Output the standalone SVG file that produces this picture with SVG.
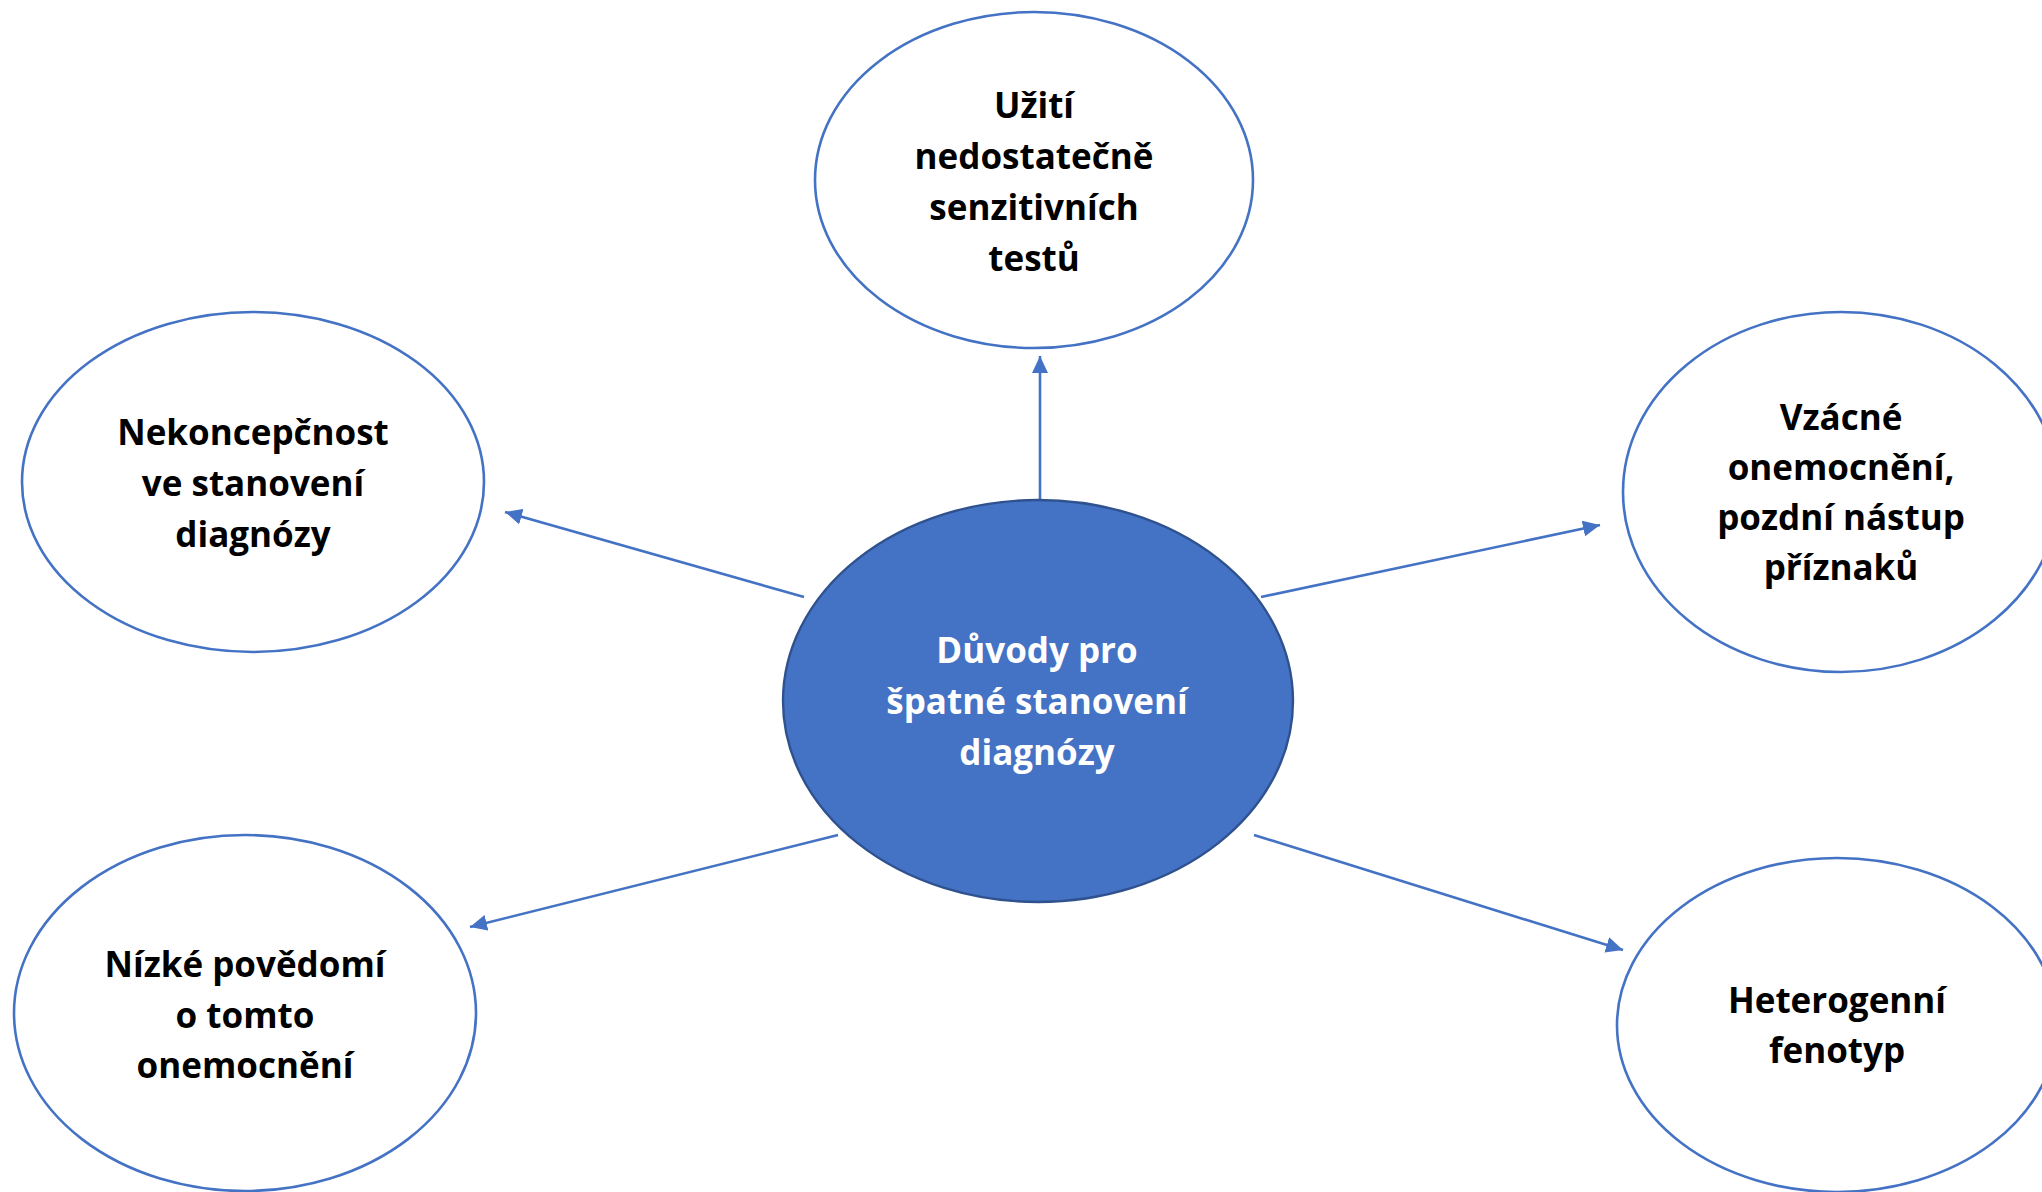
<svg xmlns="http://www.w3.org/2000/svg" width="2042" height="1192" viewBox="0 0 2042 1192">
<defs>
<style>
.node{fill:#ffffff;stroke:#4472C4;stroke-width:2.6}
.center{fill:#4472C4;stroke:#2F528F;stroke-width:2.4}
.lbl{font-family:"Open Sans","Noto Sans","Liberation Sans",sans-serif;font-weight:700;font-size:35px;text-anchor:middle;fill:#000000}
.lblw{fill:#ffffff}
.conn{stroke:#4472C4;stroke-width:2.6;fill:none;marker-end:url(#arr)}
</style>
<marker id="arr" markerUnits="userSpaceOnUse" markerWidth="18" markerHeight="16" refX="17" refY="8" orient="auto">
<path d="M0,0 L17,8 L0,16 z" fill="#4472C4"/>
</marker>
</defs>
<rect width="2042" height="1192" fill="#ffffff"/>
<g id="connectors">
<line class="conn" x1="1040" y1="500" x2="1040" y2="356"/>
<line class="conn" x1="804" y1="597" x2="505" y2="512"/>
<line class="conn" x1="1261" y1="597" x2="1600" y2="525"/>
<line class="conn" x1="838" y1="835" x2="470" y2="927"/>
<line class="conn" x1="1254" y1="835" x2="1623" y2="950"/>
</g>
<g id="node-top">
<ellipse class="node" cx="1034" cy="180" rx="219" ry="168"/>
<text class="lbl"><tspan x="1034" y="118">Užití</tspan><tspan x="1034" y="169">nedostatečně</tspan><tspan x="1034" y="220">senzitivních</tspan><tspan x="1034" y="271">testů</tspan></text>
</g>
<g id="node-left">
<ellipse class="node" cx="253" cy="482" rx="231" ry="170"/>
<text class="lbl"><tspan x="253" y="445">Nekoncepčnost</tspan><tspan x="253" y="496">ve stanovení</tspan><tspan x="253" y="547">diagnózy</tspan></text>
</g>
<g id="node-right">
<ellipse class="node" cx="1841" cy="492" rx="218" ry="180"/>
<text class="lbl"><tspan x="1841" y="430">Vzácné</tspan><tspan x="1841" y="480">onemocnění,</tspan><tspan x="1841" y="530">pozdní nástup</tspan><tspan x="1841" y="580">příznaků</tspan></text>
</g>
<g id="node-bottom-left">
<ellipse class="node" cx="245" cy="1013" rx="231" ry="178"/>
<text class="lbl"><tspan x="245" y="977">Nízké povědomí</tspan><tspan x="245" y="1028">o tomto</tspan><tspan x="245" y="1078">onemocnění</tspan></text>
</g>
<g id="node-bottom-right">
<ellipse class="node" cx="1837" cy="1025" rx="220" ry="167"/>
<text class="lbl"><tspan x="1837" y="1013">Heterogenní</tspan><tspan x="1837" y="1063">fenotyp</tspan></text>
</g>
<g id="node-center">
<ellipse class="center" cx="1038" cy="701" rx="255" ry="201"/>
<text class="lbl lblw"><tspan x="1037" y="663">Důvody pro</tspan><tspan x="1037" y="714">špatné stanovení</tspan><tspan x="1037" y="765">diagnózy</tspan></text>
</g>
</svg>
